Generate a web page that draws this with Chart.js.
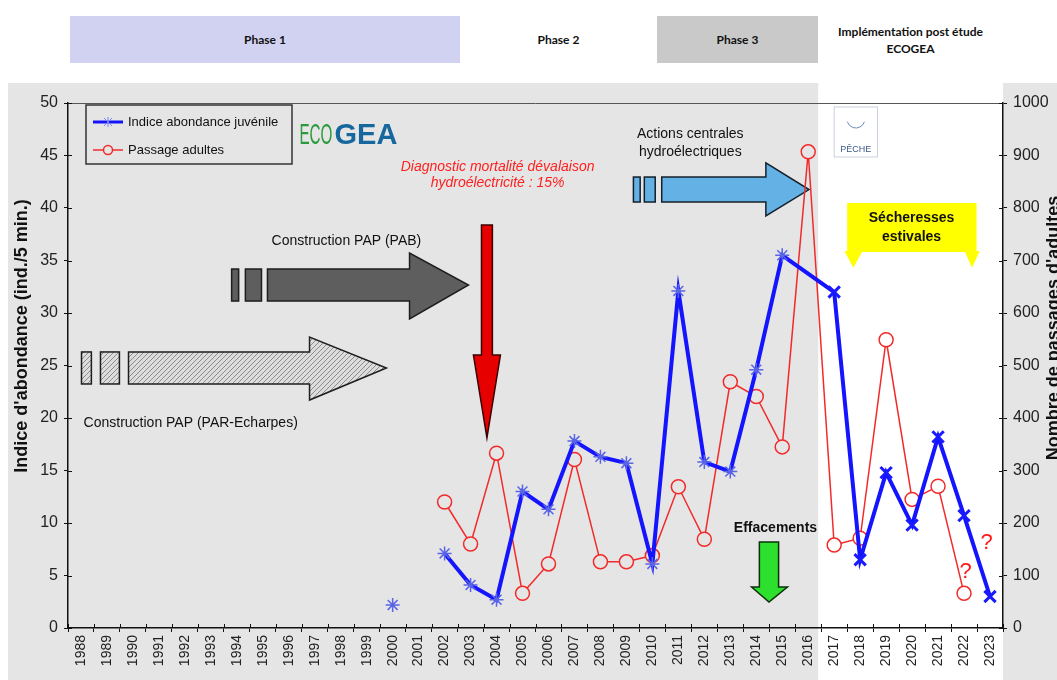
<!DOCTYPE html>
<html lang="fr">
<head>
<meta charset="utf-8">
<title>Indice d'abondance juvénile et passages d'adultes</title>
<script src="https://cdn.jsdelivr.net/npm/chart.js@4.4.1/dist/chart.umd.min.js"></script>
<style>
    html, body { margin: 0; padding: 0; background: #fff; width: 1057px; height: 680px; overflow: hidden; font-family: 'Liberation Sans', Arial, sans-serif; }
    .phase { position: absolute; top: 16px; height: 47px; display: flex; align-items: center; justify-content: center; text-align: center;
             font-family: Lato, 'Open Sans', sans-serif; font-weight: bold; font-size: 12px; line-height: 17px; color: #111; }
    #phase1 { left: 70px;  width: 390px; background: #d1d1f2; }
    #phase2 { left: 460px; width: 197px; background: #fff; }
    #phase3 { left: 657px; width: 161px; background: #c9c9c9; }
    #phase4 { left: 818px; width: 185px; background: #fff; }
    #cadre  { position: absolute; left: 8px; top: 83px; width: 1049px; height: 597px; }
</style>
</head>
<body>
<div class="phase" id="phase1">Phase 1</div>
<div class="phase" id="phase2">Phase 2</div>
<div class="phase" id="phase3">Phase 3</div>
<div class="phase" id="phase4">Implémentation post étude<br>ECOGEA</div>
<div id="cadre"><canvas id="graphique" width="1049" height="597"></canvas></div>

<script>
/* years on the x axis */
const annees = ['1988', '1989', '1990', '1991', '1992', '1993', '1994', '1995', '1996', '1997', '1998', '1999',
                '2000', '2001', '2002', '2003', '2004', '2005', '2006', '2007', '2008', '2009', '2010', '2011',
                '2012', '2013', '2014', '2015', '2016', '2017', '2018', '2019', '2020', '2021', '2022', '2023'];

/* juvenile abundance index (ind./5 min.), left axis */
const indice_juvenile = [null, null, null, null, null, null, null, null, null, null, null, null,
                         2.2, null, 7.1, 4.1, 2.7, 13.0, 11.3, 17.8, 16.3, 15.7, 6.1, 32.1,
                         15.8, 14.9, 24.6, 35.5, null, 32.0, 6.5, 14.8, 9.8, 18.2, 10.7, 3.0];

/* adult passages, right axis */
const passages_adultes = [null, null, null, null, null, null, null, null, null, null, null, null,
                          null, null, 240, 160, 333, 66, 122, 321, 126, 126, 138, 269,
                          169, 469, 441, 345, 907, 158, 171, 549, 245, 270, 66, null];

/* years whose juvenile point stays isolated (not joined to the others) */
const points_isoles = ['2000'];

/* axis graduations */
const graduations_gauche = [0, 5, 10, 15, 20, 25, 30, 35, 40, 45, 50];
const graduations_droite = [0, 100, 200, 300, 400, 500, 600, 700, 800, 900, 1000];

const GRIS  = '#e5e5e5';
const BLEU  = '#1414ff';
const ROUGE = '#f22a2a';
const debut_blanc_annee = '2017';

/* index from which the background is white */
const i_blanc = annees.indexOf(debut_blanc_annee);

const isole = i => points_isoles.includes(annees[i]);
const juvenile_ligne  = indice_juvenile.map((v, i) => isole(i) ? null : v);
const juvenile_isoles = indice_juvenile.map((v, i) => isole(i) ? v : null);

function motif_hachure(ctx) {
    const c = document.createElement('canvas');
    c.width = 5; c.height = 5;
    const g = c.getContext('2d');
    g.fillStyle = '#dcdcdc';
    g.fillRect(0, 0, 5, 5);
    g.strokeStyle = '#8c8c8c';
    g.lineWidth = 1;
    g.beginPath();
    g.moveTo(-1, 6); g.lineTo(6, -1);
    g.moveTo(-3, 3); g.lineTo(3, -3);
    g.moveTo(2, 8);  g.lineTo(8, 2);
    g.stroke();
    return ctx.createPattern(c, 'repeat');
}

/* horizontal arrow with two small blocks in front of it */
function fleche_droite(ctx, f, remplissage, contour) {
    ctx.save();
    ctx.fillStyle = remplissage;
    ctx.strokeStyle = contour;
    ctx.lineWidth = 1.5;
    f.blocs.forEach(([a, b]) => {
        ctx.fillRect(a, f.yh, b - a, f.yb - f.yh);
        ctx.strokeRect(a, f.yh, b - a, f.yb - f.yh);
    });
    const ym = (f.yh + f.yb) / 2;
    ctx.beginPath();
    ctx.moveTo(f.x0, f.yh);
    ctx.lineTo(f.xb, f.yh);
    ctx.lineTo(f.xb, f.yth);
    ctx.lineTo(f.xp, ym);
    ctx.lineTo(f.xb, f.ytb);
    ctx.lineTo(f.xb, f.yb);
    ctx.lineTo(f.x0, f.yb);
    ctx.closePath();
    ctx.fill();
    ctx.stroke();
    ctx.restore();
}

/* vertical arrow pointing down */
function fleche_bas(ctx, f, remplissage, contour) {
    const xm = (f.xg + f.xd) / 2;
    ctx.save();
    ctx.fillStyle = remplissage;
    ctx.strokeStyle = contour;
    ctx.lineWidth = 1.5;
    ctx.beginPath();
    ctx.moveTo(f.xg, f.yh);
    ctx.lineTo(f.xd, f.yh);
    ctx.lineTo(f.xd, f.yb);
    ctx.lineTo(f.xtd, f.yb);
    ctx.lineTo(xm, f.yp);
    ctx.lineTo(f.xtg, f.yb);
    ctx.lineTo(f.xg, f.yb);
    ctx.closePath();
    ctx.fill();
    ctx.stroke();
    ctx.restore();
}

function texte(ctx, t, x, y, police, couleur, align) {
    ctx.font = police;
    ctx.fillStyle = couleur;
    ctx.textAlign = align || 'center';
    ctx.textBaseline = 'middle';
    ctx.fillText(t, x, y);
}

/* limit of the white "post study" band */
function limite_blanc(x) {
    return (x.getPixelForValue(i_blanc) + x.getPixelForValue(i_blanc - 1)) / 2 - 3;
}

const decor = {
    id: 'decor',
    beforeDraw(chart) {
        const { ctx, chartArea: ca, scales: { x } } = chart;
        ctx.save();
        ctx.fillStyle = GRIS;
        ctx.fillRect(0, 0, chart.width, chart.height);
        const xb = limite_blanc(x);
        ctx.fillStyle = '#fff';
        ctx.fillRect(xb, 0, ca.right - xb, chart.height);
        ctx.restore();
    },
    beforeDatasetsDraw(chart) {
        const { ctx, chartArea: ca, scales: { x, y } } = chart;
        const X = a => x.getPixelForValue(a - 1988);
        const Y = v => y.getPixelForValue(v);
        ctx.save();

        /* top frame line */
        ctx.strokeStyle = '#555';
        ctx.lineWidth = 1;
        ctx.beginPath();
        ctx.moveTo(ca.left, ca.top + 0.5);
        ctx.lineTo(ca.right, ca.top + 0.5);
        ctx.stroke();

        /* Construction PAP (PAR-Echarpes) */
        fleche_droite(ctx, {
            blocs: [[X(1988.02), X(1988.40)], [X(1988.75), X(1989.48)]],
            x0: X(1989.83), xb: X(1996.8), xp: X(1999.76),
            yh: Y(26.29), yb: Y(23.24), yth: Y(27.71), ytb: Y(21.71)
        }, motif_hachure(ctx), '#1e1e1e');
        texte(ctx, 'Construction PAP (PAR-Echarpes)', X(1988.1), Y(19.5), '14px "Liberation Sans", Arial', '#111', 'left');

        /* Construction PAP (PAB) */
        fleche_droite(ctx, {
            blocs: [[X(1993.80), X(1994.07)], [X(1994.33), X(1994.95)]],
            x0: X(1995.18), xb: X(2000.65), xp: X(2002.92),
            yh: Y(34.19), yb: Y(31.14), yth: Y(35.71), ytb: Y(29.43)
        }, '#5e5e5e', '#1e1e1e');
        texte(ctx, 'Construction PAP (PAB)', X(1998.22), Y(36.86), '14px "Liberation Sans", Arial', '#111');

        /* diagnostic arrow */
        fleche_bas(ctx, {
            xg: X(2003.42), xd: X(2003.84), yh: Y(38.38), yb: Y(26.0),
            xtg: X(2003.11), xtd: X(2004.15), yp: Y(18.1)
        }, '#e60000', '#3a0000');
        texte(ctx, 'Diagnostic mortalité dévalaison', X(2004.04), Y(43.9), 'italic 14px "Liberation Sans", Arial', '#ff1f1f');
        texte(ctx, 'hydroélectricité : 15%', X(2004.04), Y(42.4), 'italic 14px "Liberation Sans", Arial', '#ff1f1f');

        /* Actions centrales hydroélectriques */
        fleche_droite(ctx, {
            blocs: [[X(2009.27), X(2009.53)], [X(2009.69), X(2010.11)]],
            x0: X(2010.36), xb: X(2014.37), xp: X(2016.03),
            yh: Y(42.95), yb: Y(40.57), yth: Y(44.29), ytb: Y(39.24)
        }, '#63b1e5', '#15202a');
        texte(ctx, 'Actions centrales', X(2011.46), Y(47.05), '14px "Liberation Sans", Arial', '#111');
        texte(ctx, 'hydroélectriques', X(2011.46), Y(45.33), '14px "Liberation Sans", Arial', '#111');

        /* Effacements */
        fleche_bas(ctx, {
            xg: X(2014.12), xd: X(2014.86), yh: Y(8.19), yb: Y(3.9),
            xtg: X(2013.82), xtd: X(2015.2), yp: Y(2.48)
        }, '#2de02d', '#0b300b');
        ctx.save();
        ctx.beginPath();
        ctx.rect(0, 0, limite_blanc(x), chart.height);
        ctx.clip();
        texte(ctx, 'Effacements', X(2014.74), Y(9.52), 'bold 14px "Liberation Sans", Arial', '#111');
        ctx.restore();

        /* ECOGEA logo */
        ctx.textBaseline = 'middle';
        ctx.textAlign = 'left';
        [['ECO', 1996.41, 1997.68, '30px "Liberation Sans", Arial', '#2b9a3c'],
         ['GEA', 1997.76, 2000.18, 'bold 30px "Liberation Sans", Arial', '#17679f']].forEach(([t, a, b, police, couleur]) => {
            ctx.save();
            ctx.font = police;
            ctx.fillStyle = couleur;
            const w = ctx.measureText(t).width;
            ctx.translate(X(a), Y(46.86));
            ctx.scale((X(b) - X(a)) / w, 1);
            ctx.fillText(t, 0, 0);
            ctx.restore();
        });

        /* PECHE logo */
        const px0 = X(2017.0), px1 = X(2018.67), py0 = Y(49.62), py1 = Y(44.86);
        ctx.fillStyle = '#fff';
        ctx.fillRect(px0, py0, px1 - px0, py1 - py0);
        ctx.strokeStyle = '#c9d1dd';
        ctx.lineWidth = 1;
        ctx.strokeRect(px0, py0, px1 - px0, py1 - py0);
        ctx.strokeStyle = '#6f8cb8';
        ctx.beginPath();
        ctx.arc((px0 + px1) / 2, py0 + 12, 9, 0.1 * Math.PI, 0.9 * Math.PI);
        ctx.stroke();
        texte(ctx, 'PÊCHE', (px0 + px1) / 2, py1 - 7, '9px "Liberation Sans", Arial', '#3a5a8c');

        /* Sécheresses estivales */
        const jx0 = X(2017.5), jx1 = X(2022.48), jy0 = Y(40.48), jy1 = Y(35.81);
        ctx.fillStyle = '#ffff00';
        ctx.fillRect(jx0, jy0, jx1 - jx0, jy1 - jy0);
        [[2017.39, 2018.09], [2022.02, 2022.6]].forEach(([a, b]) => {
            ctx.beginPath();
            ctx.moveTo(X(a), jy1 - 1);
            ctx.lineTo(X(b), jy1 - 1);
            ctx.lineTo((X(a) + X(b)) / 2, Y(34.3));
            ctx.closePath();
            ctx.fill();
        });
        texte(ctx, 'Sécheresses', X(2019.98), Y(39.05), 'bold 14px "Liberation Sans", Arial', '#111');
        texte(ctx, 'estivales', X(2019.98), Y(37.24), 'bold 14px "Liberation Sans", Arial', '#111');

        ctx.restore();
    },
    afterDatasetsDraw(chart) {
        const { ctx, chartArea: ca, scales: { x, y } } = chart;
        const X = a => x.getPixelForValue(a - 1988);
        const Y = v => y.getPixelForValue(v);
        ctx.save();

        /* question marks on the last years */
        texte(ctx, '?', X(2022.87), Y(8.1), '22px "Liberation Sans", Arial', '#ff1a1a');
        texte(ctx, '?', X(2022.06), Y(5.33), '22px "Liberation Sans", Arial', '#ff1a1a');

        /* legend box */
        const lx = ca.left + 18, ly = ca.top + 2;
        ctx.strokeStyle = '#333';
        ctx.lineWidth = 1.5;
        ctx.strokeRect(lx, ly, 206, 59);
        const items = chart.data.datasets;
        [17, 45].forEach((dy, i) => {
            const d = items[i];
            const yy = ly + dy;
            ctx.strokeStyle = d.borderColor;
            ctx.lineWidth = i === 0 ? 3 : 1.5;
            ctx.beginPath();
            ctx.moveTo(lx + 7, yy);
            ctx.lineTo(lx + 37, yy);
            ctx.stroke();
            if (i === 0) {
                ctx.lineWidth = 1;
                ctx.strokeStyle = '#7a86ee';
                ctx.beginPath();
                ctx.moveTo(lx + 22, yy - 5); ctx.lineTo(lx + 22, yy + 5);
                ctx.moveTo(lx + 18, yy - 4); ctx.lineTo(lx + 26, yy + 4);
                ctx.moveTo(lx + 18, yy + 4); ctx.lineTo(lx + 26, yy - 4);
                ctx.stroke();
            } else {
                ctx.fillStyle = GRIS;
                ctx.beginPath();
                ctx.arc(lx + 22, yy, 4.5, 0, Math.PI * 2);
                ctx.fill();
                ctx.stroke();
            }
            texte(ctx, d.label, lx + 42, yy, '13px "Liberation Sans", Arial', '#111', 'left');
        });
        ctx.restore();
    },
    afterDraw(chart) {
        const { ctx, chartArea: ca, scales: { x, y } } = chart;
        ctx.save();

        /* inner half of the ticks, so that they cross the axes */
        ctx.strokeStyle = '#111';
        ctx.lineWidth = 1;
        ctx.beginPath();
        graduations_gauche.forEach(v => {
            const yy = Math.round(y.getPixelForValue(v)) + 0.5;
            ctx.moveTo(ca.left, yy); ctx.lineTo(ca.left + 4, yy);
            ctx.moveTo(ca.right - 4, yy); ctx.lineTo(ca.right, yy);
        });
        for (let i = 0; i <= annees.length; i++) {
            const xx = Math.round(x.getPixelForValue(i - 0.5)) + 0.5;
            ctx.moveTo(xx, ca.bottom - 4); ctx.lineTo(xx, ca.bottom);
        }
        ctx.stroke();

        /* axis titles */
        ctx.fillStyle = '#111';
        ctx.font = 'bold 18px "Liberation Sans", Arial';
        ctx.textAlign = 'center';
        ctx.textBaseline = 'middle';
        ctx.save();
        ctx.translate(ca.left - 46, ca.top + 233);
        ctx.rotate(-Math.PI / 2);
        ctx.fillText("Indice d'abondance (ind./5 min.)", 0, 0);
        ctx.restore();
        ctx.save();
        ctx.translate(ca.right + 51, ca.top + 225);
        ctx.rotate(-Math.PI / 2);
        ctx.fillText("Nombre de passages d'adultes", 0, 0);
        ctx.restore();

        ctx.restore();
    }
};

const apres_blanc = c => c.dataIndex >= i_blanc;

/* point style shared by the juvenile datasets */
const style_juvenile = {
    yAxisID: 'y',
    pointStyle: c => apres_blanc(c) ? 'crossRot' : 'star',
    pointRadius: c => apres_blanc(c) ? 8 : 7,
    pointBorderWidth: c => apres_blanc(c) ? 3 : 1.5,
    pointBorderColor: c => apres_blanc(c) ? '#1a1aff' : '#5a64e6',
    pointBackgroundColor: 'rgba(0,0,0,0)'
};

new Chart(document.getElementById('graphique'), {
    type: 'line',
    data: {
        labels: annees,
        datasets: [{
            ...style_juvenile,
            label: 'Indice abondance juvénile',
            data: juvenile_ligne,
            borderColor: BLEU,
            borderWidth: 4,
            spanGaps: true,
            tension: 0
        }, {
            label: 'Passage adultes',
            data: passages_adultes,
            yAxisID: 'y1',
            borderColor: ROUGE,
            borderWidth: 1.5,
            pointStyle: 'circle',
            pointRadius: 7,
            pointBorderWidth: 1.5,
            pointBorderColor: ROUGE,
            pointBackgroundColor: c => apres_blanc(c) ? '#fff' : GRIS,
            tension: 0
        }, {
            ...style_juvenile,
            label: 'Indice abondance juvénile (isolé)',
            data: juvenile_isoles,
            borderColor: BLEU,
            showLine: false
        }]
    },
    options: {
        responsive: false,
        animation: false,
        events: [],
        layout: { padding: { top: 20, left: 0, right: 0, bottom: 0 } },
        plugins: {
            legend: { display: false },
            tooltip: { enabled: false }
        },
        scales: {
            x: {
                type: 'category',
                offset: true,
                afterFit: s => { s.height = 52; },
                grid: { offset: true, drawOnChartArea: false, color: '#111', tickLength: 4 },
                border: { color: '#111', width: 1.5 },
                ticks: { autoSkip: false, minRotation: 90, maxRotation: 90, padding: 3,
                         color: '#222', font: { family: '"Liberation Sans", Arial', size: 14 } }
            },
            y: {
                position: 'left',
                min: 0, max: 50,
                afterFit: s => { s.width = 60; },
                afterBuildTicks: s => { s.ticks = graduations_gauche.map(v => ({ value: v })); },
                grid: { drawOnChartArea: false, color: '#111', tickLength: 4 },
                border: { color: '#111', width: 1.5 },
                ticks: { padding: 6, color: '#222', font: { family: '"Liberation Sans", Arial', size: 16 },
                         callback: v => String(v) }
            },
            y1: {
                position: 'right',
                min: 0, max: 1000,
                afterFit: s => { s.width = 54; },
                afterBuildTicks: s => { s.ticks = graduations_droite.map(v => ({ value: v })); },
                grid: { drawOnChartArea: false, color: '#111', tickLength: 4 },
                border: { color: '#111', width: 1.5 },
                ticks: { padding: 6, color: '#222', font: { family: '"Liberation Sans", Arial', size: 16 },
                         callback: v => String(v) }
            }
        }
    },
    plugins: [decor]
});
</script>
</body>
</html>
